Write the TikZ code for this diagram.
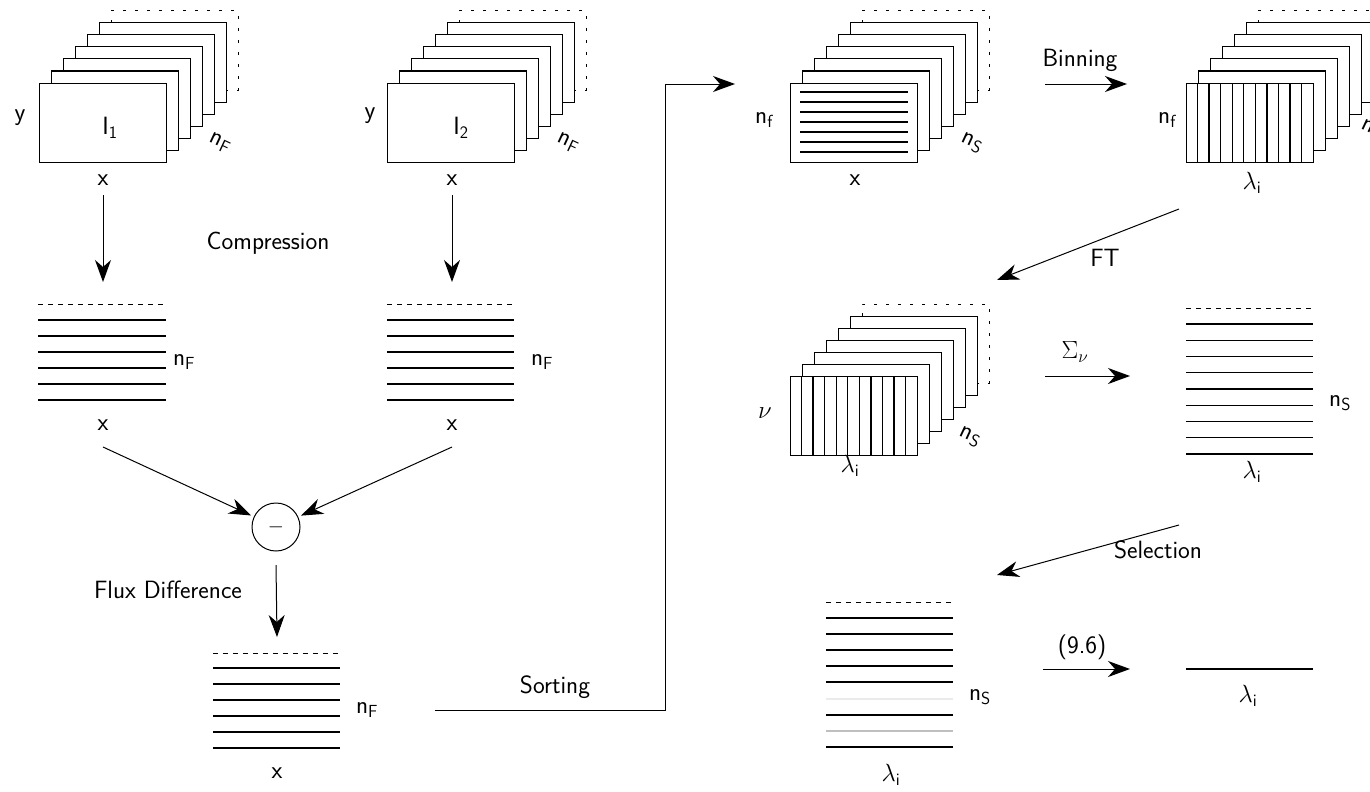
\documentclass[tikz,border=0pt]{standalone}
\usepackage{fontspec}
\usetikzlibrary{arrows.meta}

% a stack of frames: #1 = left edge, #2 = top edge of the front frame
\newcommand\framestack[2]{%
  \draw[gap] (#1+72,#2-60) -- (#1+72,#2-72) -- (#1+199,#2-72)
             -- (#1+199,#2+7) -- (#1+187,#2+7);
  \foreach \k in {5,4,...,0}
    \draw[frame] ({#1+12*\k},{#2-12*\k}) rectangle ++(127,79);
}
% vertical wavelength bins inside a front frame
\newcommand\binlines[2]{%
  \foreach \i in {1,...,10}
    \draw[trace] ({#1+\i*11.55},#2) -- ++(0,79);
}

\begin{document}
\begin{tikzpicture}[x=1pt,y=-1pt,
  lbl/.style={font=\fontsize{25}{30}\selectfont\sffamily, inner sep=0pt},
  arr/.style={line width=1pt, -{Stealth[length=22pt,width=16pt,inset=7pt]}},
  frame/.style={draw, fill=white, line width=1pt},
  trace/.style={line width=1.3pt},
  gap/.style={line width=1pt, dash pattern=on 3pt off 9pt},
  topgap/.style={line width=1pt, dash pattern=on 5pt off 5pt},
  faint/.style={line width=1.3pt, black!8},
  pale/.style={line width=1.3pt, black!25}]
\useasboundingbox (0,0) rectangle (1370,792);
\clip (0,0) rectangle (1370,792);

% ---------- raw frame stacks ----------
\framestack{39}{83}
\framestack{387}{83}
\node[lbl] (y1) at (20,118) {y};
\node[lbl] (i1) at (110,128) {I\textsubscript{1}};
\node[lbl,rotate=-25] (nF1) at (220,143) {$\mathsf{n}_{\mathsf{F}}$};
\node[lbl] (x1) at (103,180) {x};
\node[lbl] (y2) at (370,116) {y};
\node[lbl] (i2) at (461,128) {I\textsubscript{2}};
\node[lbl,rotate=-25] (nF2) at (568,143) {$\mathsf{n}_{\mathsf{F}}$};
\node[lbl] (x2) at (452,180) {x};

\node[lbl] (compr) at (268,243) {Compression};

% ---------- compressed spectra ----------
\draw[topgap] (38,304) -- (166,304);
\foreach \yy in {320,336,...,400} \draw[trace] (38,\yy) -- (166,\yy);
\draw[topgap] (387,304) -- (514,304);
\foreach \yy in {320,336,...,400} \draw[trace] (387,\yy) -- (514,\yy);
\node[lbl] (nF3) at (184,362) {$\mathsf{n}_{\mathsf{F}}$};
\node[lbl] (x3) at (103,425) {x};
\node[lbl] (nF4) at (542,362) {$\mathsf{n}_{\mathsf{F}}$};
\node[lbl] (x4) at (452,425) {x};

\coordinate (a1s) at (103,195); \coordinate (a1e) at (103,282);
\coordinate (a2s) at (452,195); \coordinate (a2e) at (452,282);
\draw[arr] (a1s) -- (a1e);
\draw[arr] (a2s) -- (a2e);

% ---------- difference ----------
\node[circle, draw, line width=1pt, minimum size=48pt, inner sep=0pt,
      font=\fontsize{22}{26}\selectfont] (minus) at (276,527) {$-$};
\coordinate (d1) at (103,447);
\coordinate (d2) at (452,447);
\draw[arr, shorten >=3pt] (d1) -- (minus);
\draw[arr, shorten >=3pt] (d2) -- (minus);
\coordinate (fe) at (277,637);
\draw[arr] (minus) ++(0,38) coordinate (fs) (fs) -- (fe);
\node[lbl] (flux) at (168,590) {Flux Difference};

\draw[topgap] (213,653) -- (340,653);
\foreach \yy in {668,684,...,748} \draw[trace] (213,\yy) -- (340,\yy);
\node[lbl] (nF5) at (367,710) {$\mathsf{n}_{\mathsf{F}}$};
\node[lbl] (x5) at (277,773) {x};

% ---------- sorting ----------
\coordinate (ss) at (435,710);
\coordinate (sc) at (665,710);
\coordinate (se) at (735,84);
\draw[arr] (ss) -- (sc) |- (se);
\node[lbl] (sort) at (555,687) {Sorting};

% ---------- sorted frames ----------
\framestack{790}{83}
\foreach \yy in {92,102,...,152} \draw[trace] (800,\yy) -- (908,\yy);
\node[lbl] (nf6) at (764,120) {$\mathsf{n}_{\mathsf{f}}$};
\node[lbl,rotate=-25] (ns6) at (972,143) {$\mathsf{n}_{\mathsf{S}}$};
\node[lbl] (x6) at (855,180) {x};

\coordinate (bs) at (1045,84); \coordinate (be) at (1127,84);
\draw[arr] (bs) -- (be);
\node[lbl] (bin) at (1080,60) {Binning};

% ---------- binned frames ----------
\framestack{1186}{83}
\binlines{1186}{83}
\node[lbl] (nf7) at (1167,120) {$\mathsf{n}_{\mathsf{f}}$};
\node[lbl,rotate=-25] (ns7) at (1372,130) {$\mathsf{n}_{\mathsf{S}}$};
\node[lbl] (l7) at (1252,183) {$\lambda_{\mathsf{i}}$};

\coordinate (ts) at (1179,209); \coordinate (te) at (997,280);
\draw[arr] (ts) -- (te);
\node[lbl] (ft) at (1105,258) {FT};

% ---------- transformed frames ----------
\framestack{790}{376}
\binlines{790}{376}
\node[lbl] (nu8) at (765,413) {$\nu$};
\node[lbl,rotate=-25] (ns8) at (970,437) {$\mathsf{n}_{\mathsf{S}}$};
\node[lbl] (l8) at (850,466) {$\lambda_{\mathsf{i}}$};

\coordinate (ps) at (1045,376); \coordinate (pe) at (1130,376);
\draw[arr] (ps) -- (pe);
\node[lbl] (sum) at (1075,352) {$\Sigma_\nu$};

% ---------- power spectra ----------
\draw[topgap] (1186,308) -- (1313,308);
\foreach \yy in {324,340.25,...,455} \draw[trace] (1186,\yy) -- (1313,\yy);
\node[lbl] (ns9) at (1340,403) {$\mathsf{n}_{\mathsf{S}}$};
\node[lbl] (l9) at (1252,472) {$\lambda_{\mathsf{i}}$};

\coordinate (qs) at (1179,525); \coordinate (qe) at (997,575);
\draw[arr] (qs) -- (qe);
\node[lbl] (sel) at (1158,550) {Selection};

% ---------- selected spectra ----------
\draw[topgap] (826,602) -- (953,602);
\foreach \yy in {618,634,...,682} \draw[trace] (826,\yy) -- (953,\yy);
\draw[faint] (826,699) -- (953,699);
\draw[trace] (826,715) -- (953,715);
\draw[pale] (826,731) -- (953,731);
\draw[trace] (826,747) -- (953,747);
\node[lbl] (ns10) at (980,697) {$\mathsf{n}_{\mathsf{S}}$};
\node[lbl] (l10) at (891,775) {$\lambda_{\mathsf{i}}$};

\coordinate (rs) at (1043,669); \coordinate (re) at (1130,669);
\draw[arr] (rs) -- (re);
\node[lbl] (eq) at (1082,647) {(9.6)};

% ---------- final spectrum ----------
\coordinate (fl) at (1186,669); \coordinate (fr) at (1313,669);
\draw[trace] (fl) -- (fr);
\node[lbl] (l11) at (1248,696) {$\lambda_{\mathsf{i}}$};
\end{tikzpicture}
\end{document}
